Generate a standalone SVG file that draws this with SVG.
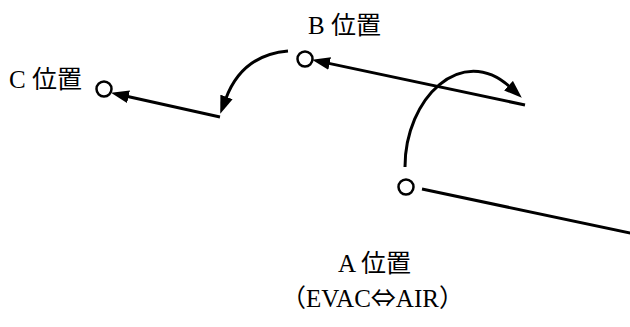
<svg xmlns="http://www.w3.org/2000/svg" width="630" height="327" viewBox="0 0 630 327">
<style>
.lbl{font-family:"Liberation Serif","Noto Sans CJK JP",serif;font-size:25px;fill:#000}
.cjk{font-family:"Noto Sans CJK JP",sans-serif}
.port{fill:#fff;stroke:#000;stroke-width:2.5}
.conn{fill:none;stroke:#000;stroke-width:3}
</style>
<defs>
<marker id="ah" markerUnits="userSpaceOnUse" markerWidth="19" markerHeight="14" refX="2" refY="6.5" orient="auto" viewBox="0 0 19 13">
<path d="M0,0 L18,6.5 L0,13 z" fill="#000"/>
</marker>
</defs>
<rect width="630" height="327" fill="#fff"/>
<g id="connectors">
<path class="conn" d="M220,117 L126.6,96.3" marker-end="url(#ah)"/>
<path class="conn" d="M525,105 L327.7,63.1" marker-end="url(#ah)"/>
<path class="conn" d="M288,51 Q242,55 225.8,98.8" marker-end="url(#ah)"/>
<path class="conn" d="M405,167 C405,98 462,43 510,87" marker-end="url(#ah)"/>
<path class="conn" d="M422,189 L632,233.5"/>
</g>
<g id="nodeC">
<circle class="port" cx="104" cy="89" r="7.5"/>
<text class="lbl" x="9" y="88">C 位置</text>
</g>
<g id="nodeB">
<circle class="port" cx="305" cy="59" r="7.5"/>
<text class="lbl" x="308" y="34">B 位置</text>
</g>
<g id="nodeA">
<circle class="port" cx="406" cy="187" r="7.5"/>
<text class="lbl" x="338" y="272">A 位置</text>
<text class="lbl" x="281" y="307">（EVAC<tspan class="cjk">⇔</tspan>AIR）</text>
</g>
</svg>
